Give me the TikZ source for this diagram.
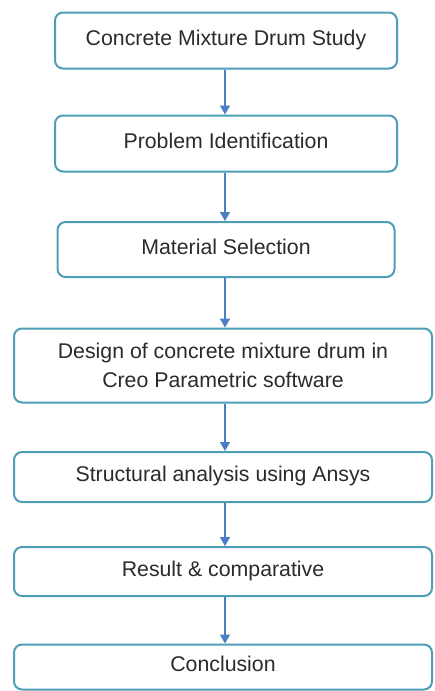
\documentclass[tikz,border=0pt]{standalone}
\usepackage{fontspec}
\setmainfont{Liberation Sans}
\usetikzlibrary{arrows.meta}
\definecolor{boxline}{HTML}{4F9EB8}
\definecolor{arrowblue}{HTML}{4A7EC2}
\definecolor{txt}{HTML}{2B2B2B}
\tikzset{
  stepbox/.style={draw=boxline, line width=2pt, rounded corners=8pt, fill=white,
    text=txt, font=\fontsize{21.3}{29}\selectfont, align=center, inner sep=0pt},
  oneline/.style={text height=16pt, text depth=6.5pt},
  flow/.style={draw=arrowblue, line width=1.4pt, -{Triangle[length=9pt,width=10pt]}}
}
\begin{document}
\begin{tikzpicture}[x=1pt,y=-1pt]
\useasboundingbox (0,0) rectangle (435,691);
% process steps, top to bottom
\node[stepbox, oneline, minimum width=342pt, minimum height=56pt] (s1) at (226,40.5) {Concrete Mixture Drum Study};
\node[stepbox, oneline, minimum width=342pt, minimum height=56pt] (s2) at (226,143.5) {Problem Identification};
\node[stepbox, oneline, minimum width=337pt, minimum height=55pt] (s3) at (226,249.5) {Material Selection};
\node[stepbox, minimum width=418pt, minimum height=74pt] (s4) at (223,365.5) {Design of concrete mixture drum in\\Creo Parametric software};
\node[stepbox, oneline, minimum width=418pt, minimum height=50pt] (s5) at (223,477) {Structural analysis using Ansys};
\node[stepbox, oneline, minimum width=418pt, minimum height=49pt] (s6) at (223,571.5) {Result \& comparative};
\node[stepbox, oneline, minimum width=418pt, minimum height=45pt] (s7) at (223,667) {Conclusion};
% connectors
\draw[flow] (s1.south -| 225,0) -- (s2.north -| 225,0);
\draw[flow] (s2.south -| 225,0) -- (s3.north -| 225,0);
\draw[flow] (s3.south -| 225,0) -- (s4.north -| 225,0);
\draw[flow] (s4.south -| 225,0) -- (s5.north -| 225,0);
\draw[flow] (s5.south -| 225,0) -- (s6.north -| 225,0);
\draw[flow] (s6.south -| 225,0) -- (s7.north -| 225,0);
\end{tikzpicture}
\end{document}
